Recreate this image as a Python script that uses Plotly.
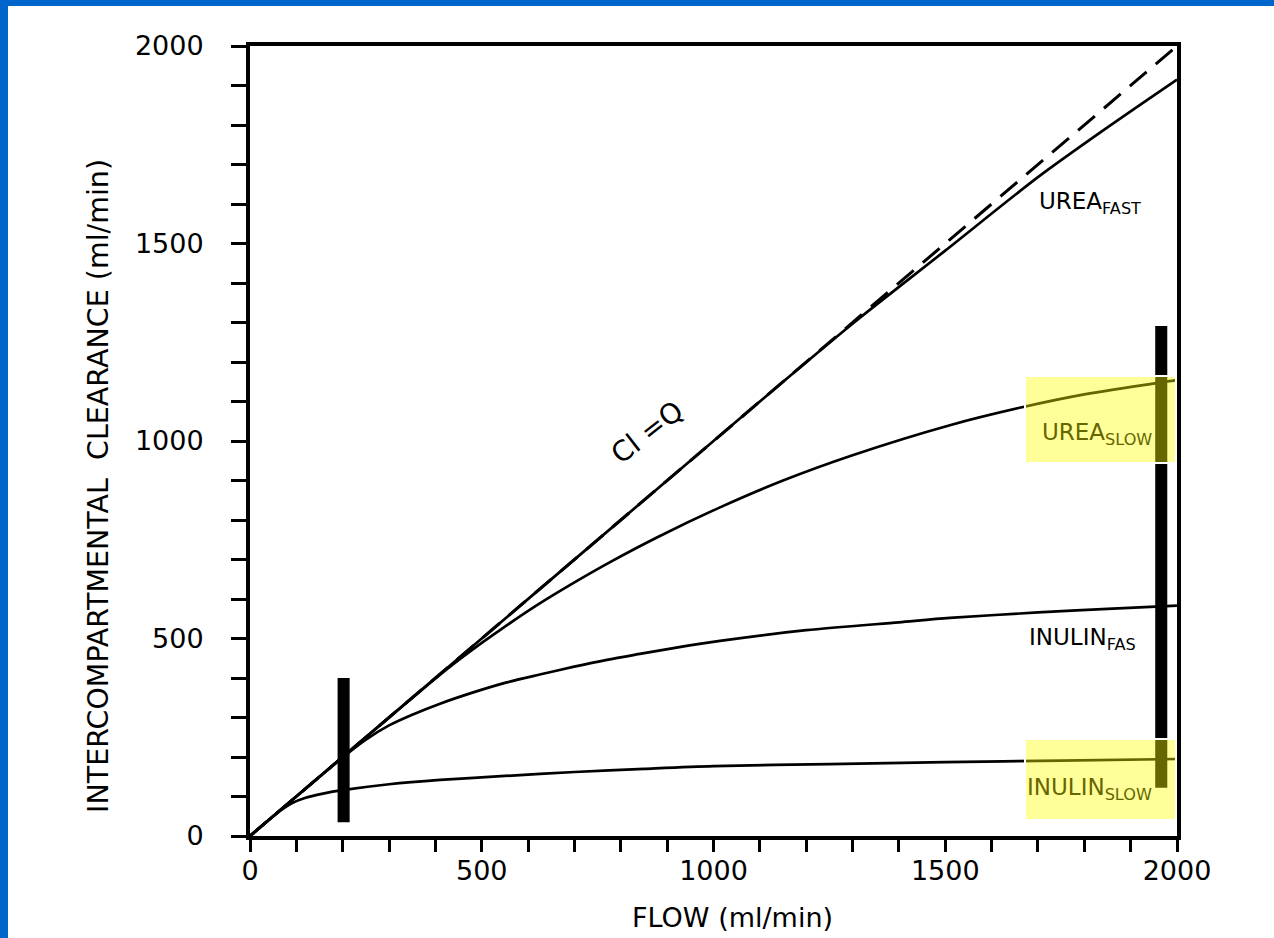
import plotly.graph_objects as go

# Flow (ml/min) and intercompartmental clearance (ml/min) for each curve
flow_urea_fast = [0, 500, 1000, 1150, 1300, 1500, 1700, 1850, 2000]
cl_urea_fast = [0, 500, 1000, 1150, 1297, 1482, 1668, 1794, 1915]

flow_urea_slow = [0, 420, 480, 540, 620, 700, 770, 880, 1014, 1150, 1300, 1510, 1668, 1800, 1963, 2000]
cl_urea_slow = [0, 418, 472, 522, 585, 642, 689, 757, 832, 900, 964, 1040, 1086, 1118, 1148, 1154]

flow_inulin_fast = [0, 150, 200, 250, 300, 350, 410, 480, 554, 630, 697, 770, 841, 920, 1014, 1200, 1400, 1510, 1700, 1850, 2000]
cl_inulin_fast = [0, 150, 199, 244, 280, 307, 335, 363, 389, 410, 428, 446, 461, 477, 494, 521, 541, 552, 566, 575, 583]

flow_inulin_slow = [0, 40, 70, 90, 120, 160, 200, 300, 410, 550, 700, 850, 1000, 1250, 1500, 1750, 2000]
cl_inulin_slow = [0, 40, 68, 83, 97, 108, 116, 131, 142, 152, 162, 170, 177, 182, 187, 191, 195]

# Line of identity, Cl = Q
identity_flow = [0, 2000]
identity_cl = [0, 2000]

# Range bars (flow, low, high)
bar_flow = [202, 1966]
bar_low = [35, 122]
bar_high = [400, 1291]

tick_vals = [0, 500, 1000, 1500, 2000]
tick_text = ["0", "500", "1000", "1500", "2000"]

# Plot-area geometry in pixels
W, H = 1274, 938
L, R, T, B = 250, 1177, 46, 836


def px_x(p):
    return (p - L) / (R - L)


def px_y(p):
    return (B - p) / (B - T)


def dx(p):
    return (p - L) / (R - L) * 2000


def dy(p):
    return (B - p) / (B - T) * 2000


INK = "#000000"
OLIVE = "#666600"
FONT = "DejaVu Sans"

fig = go.Figure()

fig.add_trace(go.Scatter(x=identity_flow, y=identity_cl, mode="lines",
                         line=dict(color=INK, width=3, dash="22px,12px")))

for fx, cy in [(flow_urea_fast, cl_urea_fast), (flow_urea_slow, cl_urea_slow),
               (flow_inulin_fast, cl_inulin_fast), (flow_inulin_slow, cl_inulin_slow)]:
    fig.add_trace(go.Scatter(x=fx, y=cy, mode="lines",
                             line=dict(color=INK, width=2.7, shape="spline", smoothing=0.8)))

fig.add_trace(go.Bar(x=bar_flow, y=[h - l for h, l in zip(bar_high, bar_low)], base=bar_low,
                     width=26, marker=dict(color=INK, line=dict(width=0))))

axis_common = dict(range=[0, 2000], showline=True, linewidth=4, linecolor=INK, mirror=True,
                   showgrid=False, zeroline=False, ticks="outside", tickwidth=3, tickcolor=INK,
                   tickvals=tick_vals, ticktext=tick_text,
                   tickfont=dict(family=FONT, size=27, color=INK))

fig.update_layout(
    width=W, height=H,
    margin=dict(l=L, r=W - R, t=T, b=H - B),
    paper_bgcolor="white", plot_bgcolor="white",
    showlegend=False, barmode="overlay",
    xaxis=dict(**axis_common, ticklen=12, ticklabelstandoff=-4,
               minor=dict(dtick=100, ticks="outside", ticklen=12, tickwidth=3, tickcolor=INK)),
    yaxis=dict(**axis_common, ticklen=15, ticklabelstandoff=22,
               minor=dict(dtick=100, ticks="outside", ticklen=15, tickwidth=3, tickcolor=INK)),
)

# Highlight boxes over the slow-compartment labels
for y_top, y_bot in [(376, 463), (739, 820)]:
    fig.add_shape(type="rect", xref="x", yref="y", x0=dx(1025), x1=dx(1176), y0=dy(y_bot), y1=dy(y_top),
                  fillcolor="rgba(255,255,0,0.4)", line=dict(color="white", width=2), layer="above")

# Blue frame on the left and top edges of the page
fig.add_shape(type="rect", xref="paper", yref="paper", x0=px_x(0), x1=px_x(8), y0=px_y(H), y1=px_y(0),
              fillcolor="rgb(0,102,204)", line=dict(width=0), layer="above")
fig.add_shape(type="rect", xref="paper", yref="paper", x0=px_x(0), x1=px_x(W), y0=px_y(6), y1=px_y(0),
              fillcolor="rgb(0,102,204)", line=dict(width=0), layer="above")

labels = [
    ("UREA<sub>FAST</sub>", 1037, 203, INK),
    ("UREA<sub>SLOW</sub>", 1040, 434, OLIVE),
    ("INULIN<sub>FAS</sub>", 1027, 639, INK),
    ("INULIN<sub>SLOW</sub>", 1025, 789, OLIVE),
]
for text, xp, yp, col in labels:
    fig.add_annotation(x=dx(xp), y=dy(yp), xref="x", yref="y", text=text, showarrow=False,
                       xanchor="left", yanchor="middle",
                       font=dict(family=FONT, size=23, color=col))

fig.add_annotation(x=dx(647), y=dy(432), xref="x", yref="y", text="Cl =Q", showarrow=False,
                   textangle=-38, font=dict(family=FONT, size=28, color=INK))

fig.add_annotation(x=px_x(732), y=px_y(917), xref="paper", yref="paper", text="FLOW (ml/min)",
                   xanchor="center", yanchor="middle",
                   showarrow=False, font=dict(family=FONT, size=27, color=INK))
fig.add_annotation(x=px_x(98), y=px_y(486), xref="paper", yref="paper",
                   text="INTERCOMPARTMENTAL  CLEARANCE (ml/min)", textangle=-90,
                   xanchor="center", yanchor="middle",
                   showarrow=False, font=dict(family=FONT, size=28.5, color=INK))

fig.write_html("out.html")
